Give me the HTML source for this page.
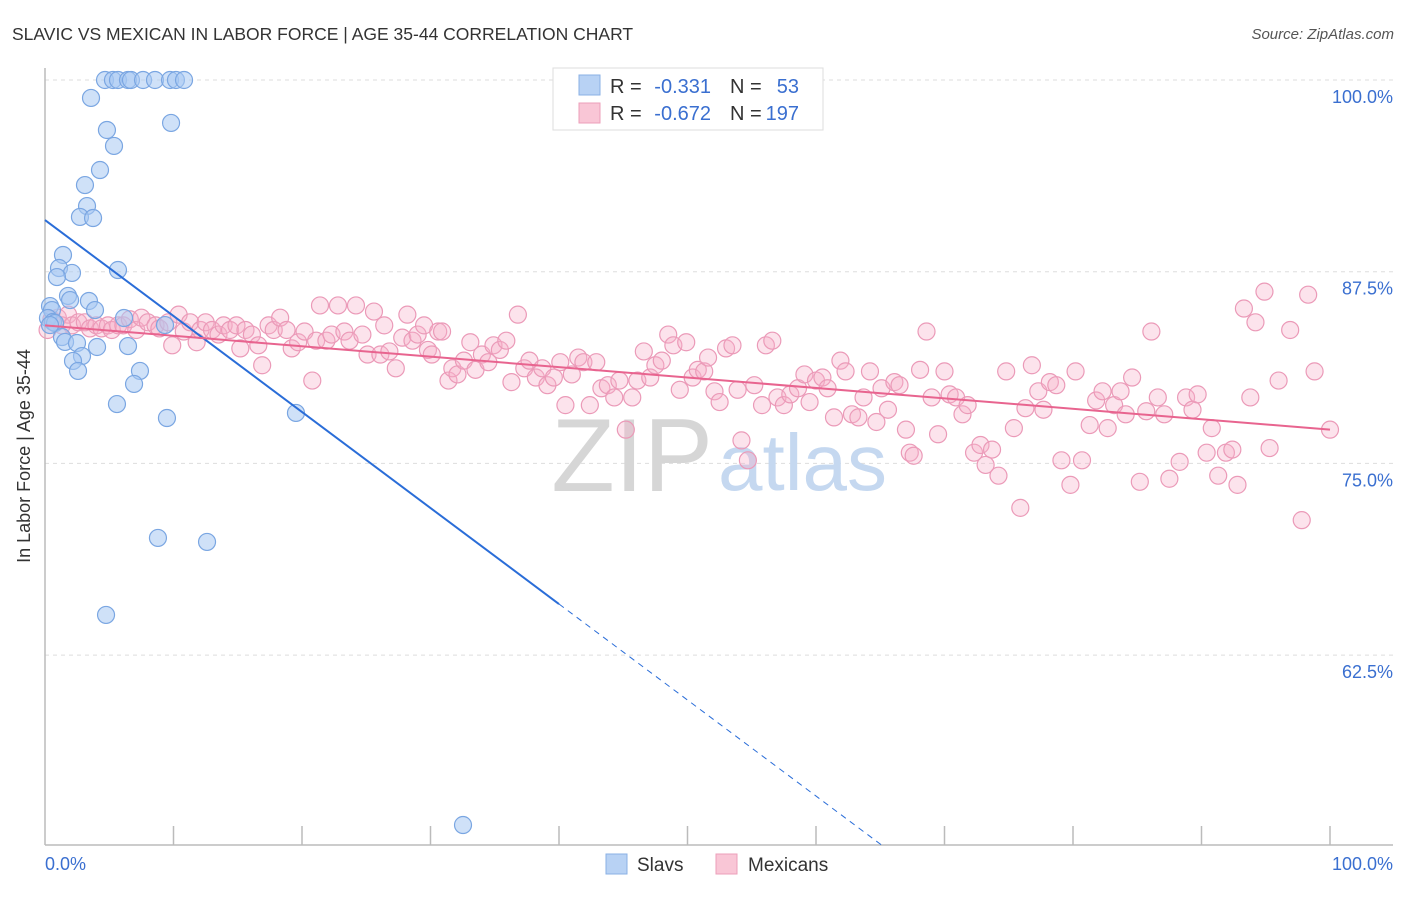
<!DOCTYPE html>
<html><head><meta charset="utf-8"><style>
body{margin:0;background:#fff;font-family:"Liberation Sans",sans-serif;}
svg text{font-family:"Liberation Sans",sans-serif;}
</style></head><body>
<svg id="chart" width="1406" height="892" xmlns="http://www.w3.org/2000/svg">
<text x="12" y="40" font-size="17.5" fill="#333">SLAVIC VS MEXICAN IN LABOR FORCE | AGE 35-44 CORRELATION CHART</text>
<text x="1394" y="39" font-size="15" fill="#555" font-style="italic" text-anchor="end">Source: ZipAtlas.com</text>
<g id="grid"></g>
<text x="713" y="491" font-size="104" fill="#d6d6d6" text-anchor="end" font-family="Liberation Serif">ZIP</text>
<text x="718" y="490" font-size="80" fill="#c5d8f0">atlas</text>
<g id="axes"></g>
<g id="pinkpts"></g>
<g id="bluepts"></g>
<g id="lines"></g>
<text x="30" y="456" font-size="18" fill="#333" text-anchor="middle" transform="rotate(-90 30 456)">In Labor Force | Age 35-44</text>
<g>
<rect x="553" y="68" width="270" height="62" fill="#fff" stroke="#ddd"/>
<rect x="579" y="75" width="21" height="20" fill="#b8d2f4" stroke="#8ab0e4"/>
<rect x="579" y="103" width="21" height="20" fill="#f9c6d6" stroke="#ec9fba"/>
<text x="610" y="93" font-size="20" fill="#333">R =</text>
<text x="711" y="93" font-size="20" fill="#3a6fd0" text-anchor="end">-0.331</text>
<text x="730" y="93" font-size="20" fill="#333">N =</text>
<text x="799" y="93" font-size="20" fill="#3a6fd0" text-anchor="end">53</text>
<text x="610" y="120" font-size="20" fill="#333">R =</text>
<text x="711" y="120" font-size="20" fill="#3a6fd0" text-anchor="end">-0.672</text>
<text x="730" y="120" font-size="20" fill="#333">N =</text>
<text x="799" y="120" font-size="20" fill="#3a6fd0" text-anchor="end">197</text>
</g>
<g>
<rect x="606" y="854" width="21" height="20" fill="#b8d2f4" stroke="#8ab0e4"/>
<text x="637" y="871" font-size="19" fill="#333">Slavs</text>
<rect x="716" y="854" width="21" height="20" fill="#f9c6d6" stroke="#ec9fba"/>
<text x="748" y="871" font-size="19" fill="#333">Mexicans</text>
</g>
</svg>
<script>
const yTicks=[100,87.5,75,62.5];
const yTickLabels=["100.0%","87.5%","75.0%","62.5%"];
const xTicks=[0,10,20,30,40,50,60,70,80,90,100];
const slavX=[4.67,5.29,5.68,6.46,6.69,7.63,8.56,9.73,10.19,10.82,3.58,4.82,5.37,9.81,4.28,3.11,3.27,2.72,3.74,1.40,1.09,2.10,0.93,5.68,1.79,1.95,3.42,3.89,0.39,0.54,0.23,0.62,0.78,6.15,9.34,1.32,1.56,2.49,4.05,6.46,2.88,2.18,2.57,7.39,6.93,5.60,9.49,19.53,8.79,12.61,4.75,32.53,0.39];
const slavY=[100,100,100,100,100,100,100,100,100,100,98.83,96.74,95.70,97.20,94.13,93.15,91.78,91.07,91.00,88.59,87.74,87.42,87.15,87.61,85.92,85.65,85.59,85.00,85.26,85.00,84.48,84.22,84.15,84.48,84.02,83.24,82.92,82.85,82.59,82.65,82.00,81.68,81.03,81.03,80.18,78.87,77.96,78.29,70.14,69.88,65.12,51.42,84.02];
const mexX=[0.2,0.5,1.0,1.3,1.8,2.1,2.6,3.1,3.5,4.0,4.4,4.9,5.2,5.7,6.1,6.6,7.1,7.5,8.0,8.6,8.9,9.6,9.9,10.4,10.8,11.3,11.8,12.1,12.5,13.0,13.5,13.9,14.4,14.9,15.2,15.6,16.1,16.6,16.9,17.4,17.8,18.3,18.8,19.2,19.7,20.2,20.8,21.1,21.4,21.9,22.3,22.8,23.3,23.7,24.2,24.7,25.1,25.6,26.1,26.4,26.8,27.3,27.8,28.2,28.6,29.0,29.5,29.8,30.1,30.6,30.9,31.4,31.7,32.1,32.6,33.1,33.5,34.0,34.5,34.9,35.4,35.9,36.3,36.8,37.3,37.7,38.2,38.7,39.1,39.6,40.1,40.5,41.0,41.5,41.9,42.4,42.9,43.3,43.8,44.3,44.7,45.2,45.7,46.1,46.6,47.1,47.5,48.0,48.5,48.9,49.4,49.9,50.4,50.8,51.3,51.6,52.1,52.5,53.0,53.5,53.9,54.2,54.7,55.2,55.8,56.1,56.6,57.0,57.5,58.0,58.6,59.1,59.5,60.0,60.5,60.9,61.4,61.9,62.3,62.8,63.3,63.7,64.2,64.7,65.1,65.6,66.1,66.5,67.0,67.3,67.6,68.1,68.6,69.0,69.5,70.0,70.4,70.9,71.4,71.8,72.3,72.8,73.2,73.7,74.2,74.8,75.4,75.9,76.3,76.8,77.3,77.7,78.2,78.7,79.1,79.8,80.2,80.7,81.3,81.8,82.3,82.7,83.2,83.7,84.1,84.6,85.2,85.7,86.1,86.6,87.1,87.5,88.3,88.8,89.3,89.7,90.4,90.8,91.3,91.9,92.4,92.8,93.3,93.8,94.2,94.9,95.3,96.0,96.9,97.8,98.3,98.8,100];
const mexY=[83.7,84.4,84.5,84.0,84.7,84.0,84.2,84.2,83.8,84.0,83.8,84.0,83.7,84.0,84.0,84.4,83.7,84.5,84.2,84.0,83.8,84.2,82.7,84.7,83.6,84.2,82.9,83.7,84.2,83.7,83.4,84.0,83.7,84.0,82.5,83.7,83.4,82.7,81.4,84.0,83.7,84.5,83.7,82.5,82.9,83.6,80.4,83.0,85.3,83.0,83.4,85.3,83.6,83.0,85.3,83.4,82.1,84.9,82.1,84.0,82.3,81.2,83.2,84.7,83.0,83.4,84.0,82.4,82.1,83.6,83.6,80.4,81.2,80.8,81.7,82.9,81.1,82.1,81.6,82.7,82.4,83.0,80.3,84.7,81.2,81.7,80.6,81.2,80.1,80.6,81.6,78.8,80.8,81.9,81.6,78.8,81.6,79.9,80.1,79.3,80.4,77.2,79.3,80.4,82.3,80.6,81.4,81.7,83.4,82.7,79.8,82.9,80.6,81.1,81.0,81.9,79.7,79.0,82.5,82.7,79.8,76.5,75.2,80.1,78.8,82.7,83.0,79.3,78.8,79.5,79.9,80.8,79.0,80.4,80.6,79.9,78.0,81.7,81.0,78.2,78.0,79.3,81.0,77.7,79.9,78.5,80.3,80.1,77.2,75.7,75.5,81.1,83.6,79.3,76.9,81.0,79.5,79.3,78.2,78.8,75.7,76.2,74.9,75.9,74.2,81.0,77.3,72.1,78.6,81.4,79.7,78.5,80.3,80.1,75.2,73.6,81.0,75.2,77.5,79.1,79.7,77.3,78.8,79.7,78.2,80.6,73.8,78.4,83.6,79.3,78.2,74.0,75.1,79.3,78.5,79.5,75.7,77.3,74.2,75.7,75.9,73.6,85.1,79.3,84.2,86.2,76.0,80.4,83.7,71.3,86.0,81.0,77.2];
const slavTrend=[90.87,-0.626];
const mexTrend=[84.0,-0.068];

const NS="http://www.w3.org/2000/svg";
const X=v=>45+v*12.85;
const Y=v=>80+(100-v)*15.336;
function mk(tag,attrs,parent){const e=document.createElementNS(NS,tag);for(const k in attrs)e.setAttribute(k,attrs[k]);parent.appendChild(e);return e;}
const grid=document.getElementById('grid'),axes=document.getElementById('axes');
yTicks.forEach((t,i)=>{
  const l=mk('line',{x1:45,x2:1393,y1:Y(t),y2:Y(t),stroke:'#ddd','stroke-dasharray':'4,4'},grid);
  
  
  const tx=mk('text',{x:1393,y:Y(t)+23,'font-size':18,fill:'#3a6fd0','text-anchor':'end'},axes);
  tx.textContent=yTickLabels[i];
  
  
});
let a=mk('line',{x1:45,x2:45,y1:68,y2:845,stroke:'#bbb','stroke-width':1.5},axes);


a=mk('line',{x1:45,x2:1393,y1:845,y2:845,stroke:'#bbb','stroke-width':1.5},axes);


xTicks.forEach(t=>{
  if(t===0)return;
  const l=mk('line',{x1:X(t),x2:X(t),y1:826,y2:845,stroke:'#bbb','stroke-width':1.5},axes);
  
  
});
let t0=mk('text',{x:45,y:870,'font-size':18,fill:'#3a6fd0'},axes);t0.textContent='0.0%';


let t1=mk('text',{x:1393,y:870,'font-size':18,fill:'#3a6fd0','text-anchor':'end'},axes);t1.textContent='100.0%';


const pg=document.getElementById('pinkpts');
mexX.forEach((x,i)=>{
  const c=mk('circle',{cx:X(x),cy:Y(mexY[i]),r:8.5,fill:'rgba(246,176,200,0.35)',stroke:'#eb9ab8','stroke-width':1.2},pg);
  
  
});
const bg=document.getElementById('bluepts');
slavX.forEach((x,i)=>{
  const c=mk('circle',{cx:X(x),cy:Y(slavY[i]),r:8.5,fill:'rgba(168,200,242,0.55)',stroke:'#7aa6e2','stroke-width':1.2},bg);
  
  
});
const lg=document.getElementById('lines');
const sy=x=>slavTrend[0]+slavTrend[1]*x;
const xEnd=(50-slavTrend[0])/slavTrend[1];
let l1=mk('line',{x1:X(0),y1:Y(sy(0)),x2:X(40),y2:Y(sy(40)),stroke:'#2a6dd8','stroke-width':2},lg);


let l2=mk('line',{x1:X(40),y1:Y(sy(40)),x2:X(xEnd),y2:Y(sy(xEnd)),stroke:'#2a6dd8','stroke-width':1,'stroke-dasharray':'6,5'},lg);


const my=x=>mexTrend[0]+mexTrend[1]*x;
let l3=mk('line',{x1:X(0),y1:Y(my(0)),x2:X(100),y2:Y(my(100)),stroke:'#e8648f','stroke-width':2},lg);


</script>
</body></html>
